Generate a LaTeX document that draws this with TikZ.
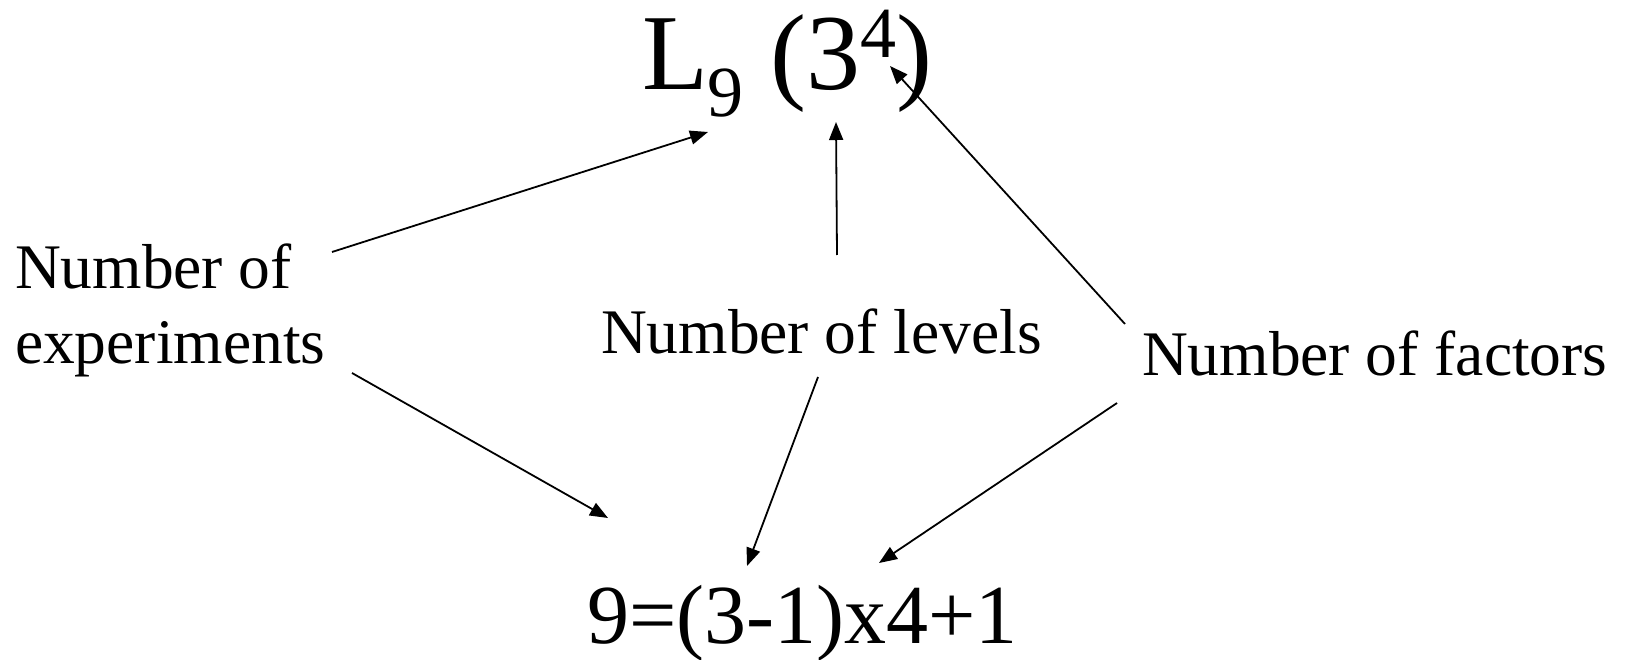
\documentclass[tikz,border=0pt]{standalone}
\usepackage{fontspec}
\setmainfont{Liberation Serif}
\usetikzlibrary{arrows.meta}
\begin{document}
\begin{tikzpicture}[x=1pt,y=-1pt,
  lbl/.style={inner sep=0pt, outer sep=0pt, anchor=base west, align=left, font=\fontsize{63.5}{75}\selectfont},
  arr/.style={-{Triangle[length=18pt,width=14pt]}, line width=1.8pt}]
\useasboundingbox (0,0) rectangle (1630,660);
\node[lbl, font=\fontsize{108}{110}\selectfont] (title) at (642,90)
  {L\raisebox{-27pt}{\fontsize{72}{72}\selectfont 9} (3\raisebox{32pt}{\fontsize{72}{72}\selectfont 4})};
\node[lbl] (exp) at (15,363) {Number of\\experiments};
\node[lbl] (lev) at (601,353) {Number of levels};
\node[lbl] (fac) at (1142,375) {Number of factors};
\node[lbl, font=\fontsize{84}{86}\selectfont] (eq) at (587,643) {9=(3-1)x4+1};
% arrow end points
\coordinate (expUp) at (332,252);
\coordinate (titleL) at (708,132);
\coordinate (levUp) at (837,255);
\coordinate (titleThree) at (836,122);
\coordinate (facUp) at (1125,324);
\coordinate (titleFour) at (890,66);
\coordinate (expDown) at (352,373);
\coordinate (eqExp) at (608,518);
\coordinate (levDown) at (818,377);
\coordinate (eqLev) at (747,566);
\coordinate (facDown) at (1117,403);
\coordinate (eqFac) at (879,563);
\draw[arr] (expUp) -- (titleL);
\draw[arr] (levUp) -- (titleThree);
\draw[arr] (facUp) -- (titleFour);
\draw[arr] (expDown) -- (eqExp);
\draw[arr] (levDown) -- (eqLev);
\draw[arr] (facDown) -- (eqFac);
\end{tikzpicture}
\end{document}
